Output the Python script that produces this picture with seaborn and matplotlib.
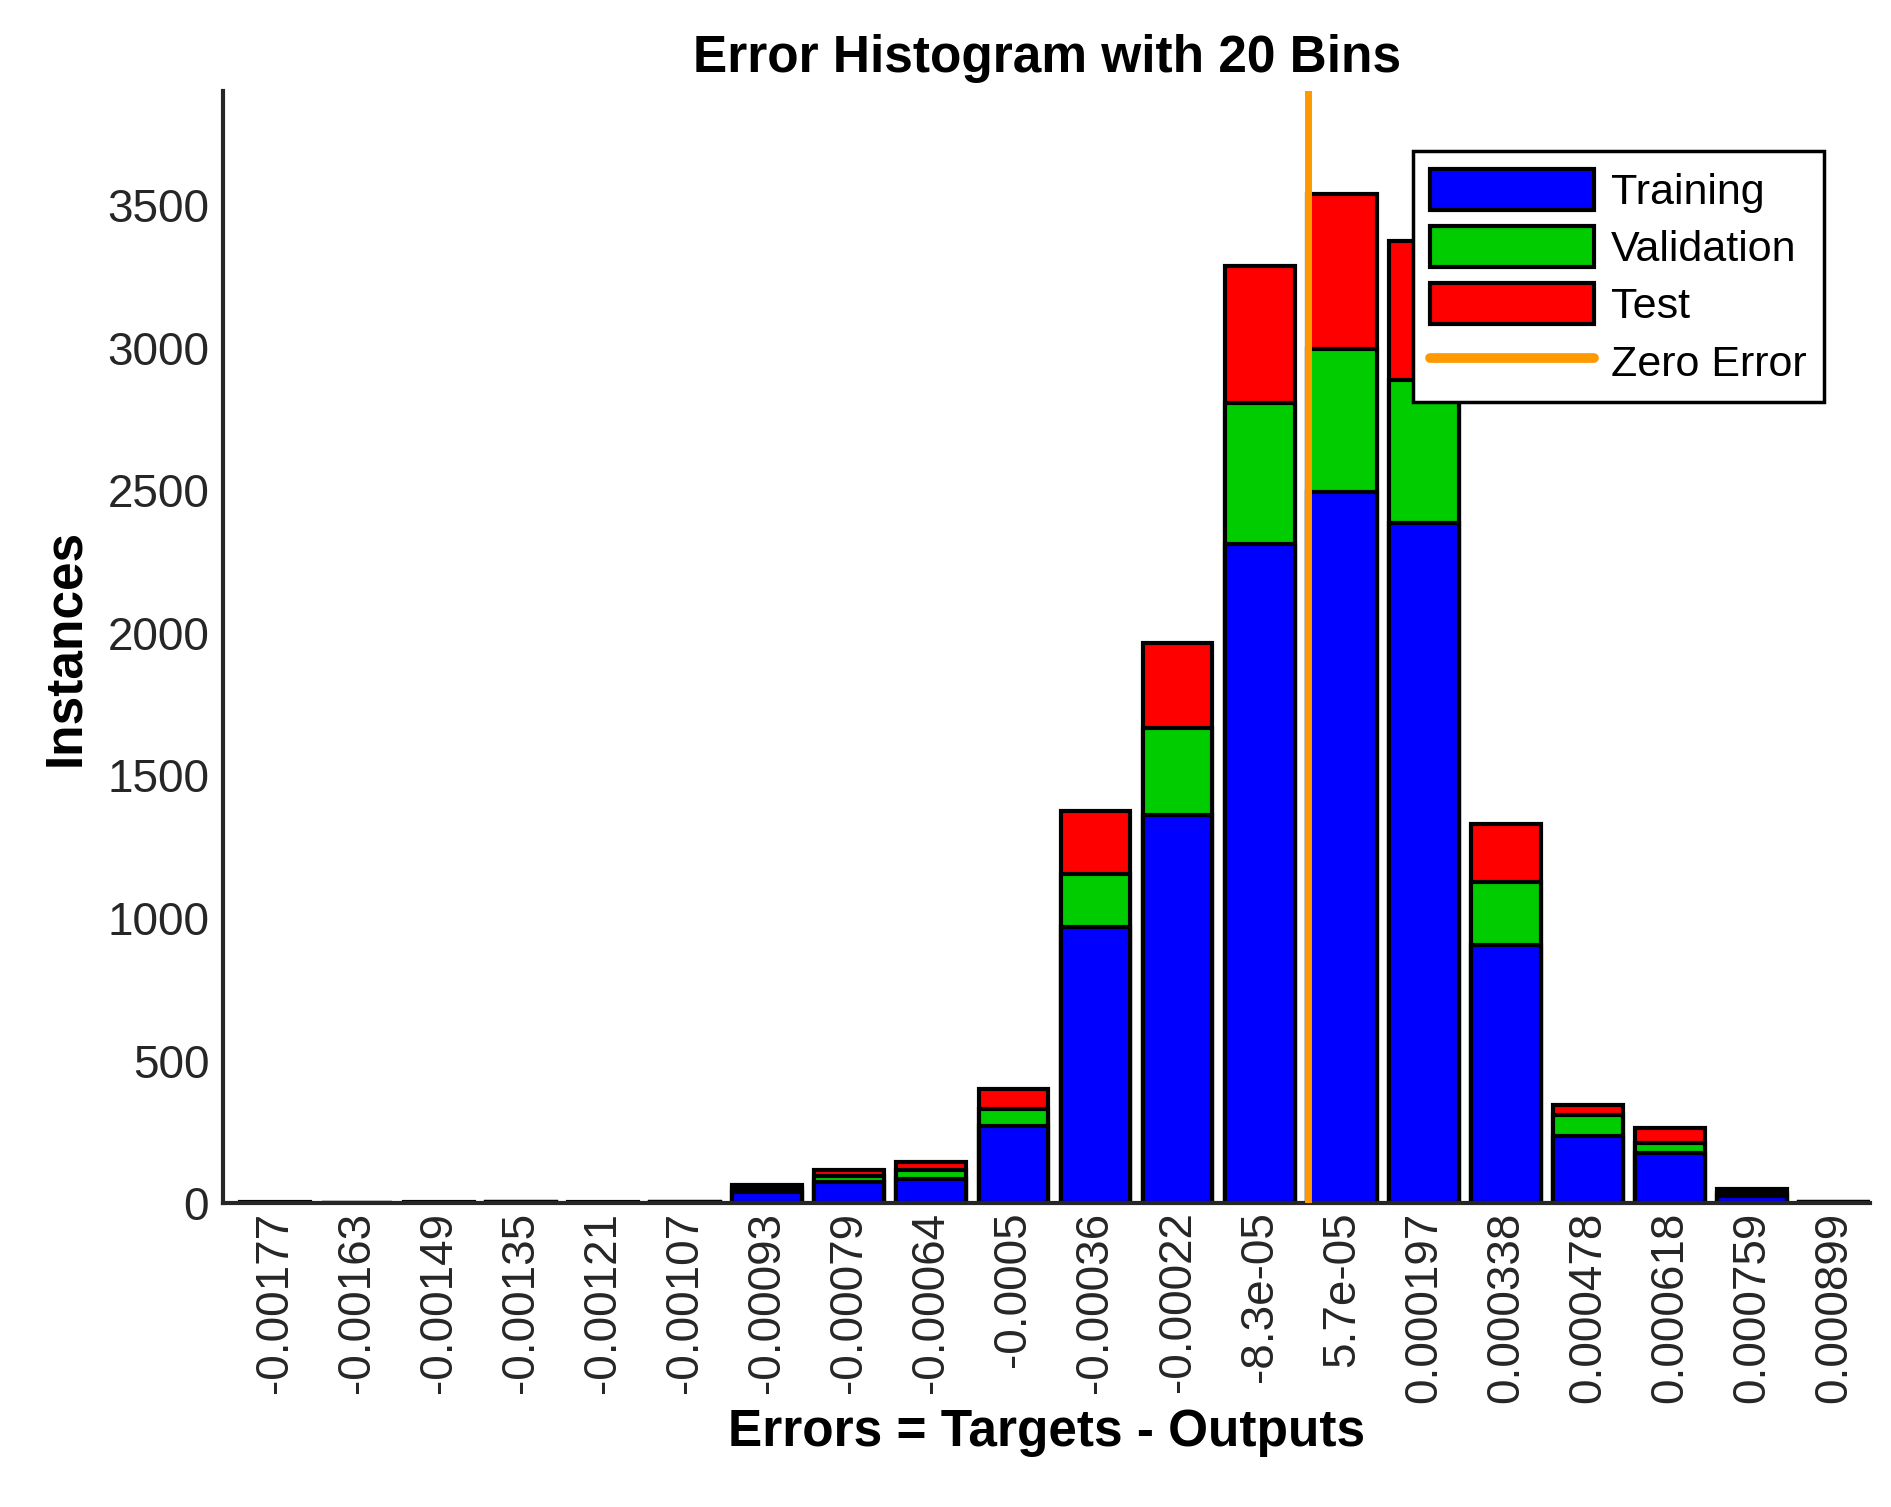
import numpy as np
import pandas as pd
import matplotlib
matplotlib.use('Agg')
import matplotlib.pyplot as plt
import seaborn as sns
from matplotlib.patches import Patch
from matplotlib.lines import Line2D

# 데이터
bin_labels = ['-0.00177', '-0.00163', '-0.00149', '-0.00135', '-0.00121', '-0.00107',
              '-0.00093', '-0.00079', '-0.00064', '-0.0005', '-0.00036', '-0.00022',
              '-8.3e-05', '5.7e-05', '0.000197', '0.000338', '0.000478', '0.000618',
              '0.000759', '0.000899']
training   = [2, 0, 2, 3, 2, 3, 40, 75, 85, 270, 970, 1360, 2310, 2495, 2385, 905, 235, 175, 25, 3]
validation = [0, 0, 0, 1, 0, 1, 12, 20, 30, 60, 185, 305, 495, 500, 500, 220, 75, 35, 10, 1]
test       = [1, 0, 1, 1, 1, 1, 13, 20, 30, 70, 220, 300, 480, 545, 490, 205, 35, 55, 15, 1]
zero_pos = 12.59   # 0 위치 (빈 인덱스 기준)

df = pd.DataFrame({'bin': bin_labels, 'train': training, 'val': validation, 'test': test})
df['tv'] = df['train'] + df['val']
df['total'] = df['tv'] + df['test']

sns.set_theme(style='white')
plt.rcParams['font.family'] = ['Liberation Sans', 'DejaVu Sans']
plt.rcParams['text.color'] = 'black'
plt.rcParams['axes.labelcolor'] = 'black'

fig = plt.figure(figsize=(18.91, 15.07), dpi=100)
ax = fig.add_axes([0.118, 0.2016, 0.871, 0.738])

kw = dict(x='bin', width=0.85, edgecolor='black', linewidth=3, order=bin_labels, ax=ax)
sns.barplot(data=df, y='total', color='#ff0000', saturation=1, **kw)
sns.barplot(data=df, y='tv', color='#00cc00', saturation=1, **kw)
sns.barplot(data=df, y='train', color='#0000ff', saturation=1, **kw)

ax.axvline(zero_pos, color='#ff9900', lw=5, zorder=5)

ax.set_xlim(-0.63, 19.44)
ax.set_ylim(0, 3900)
ax.set_yticks(range(0, 3501, 500))
ax.tick_params(axis='x', rotation=90, labelsize=33, direction='in', length=10, width=2,
               labelcolor='#262626', pad=6)
ax.tick_params(axis='y', labelsize=33, direction='in', length=10, width=2,
               labelcolor='#262626', pad=10)
for s in ['top', 'right']:
    ax.spines[s].set_visible(False)
for s in ['left', 'bottom']:
    ax.spines[s].set_linewidth(3)
    ax.spines[s].set_color('#262626')

ax.set_title('Error Histogram with 20 Bins', fontsize=37, fontweight='bold', pad=14)
ax.set_xlabel('Errors = Targets - Outputs', fontsize=37, fontweight='bold', labelpad=4)
ax.set_ylabel('Instances', fontsize=37, fontweight='bold', labelpad=12)

handles = [Patch(facecolor='#0000ff', edgecolor='black', lw=3, label='Training'),
           Patch(facecolor='#00cc00', edgecolor='black', lw=3, label='Validation'),
           Patch(facecolor='#ff0000', edgecolor='black', lw=3, label='Test'),
           Line2D([0], [0], color='#ff9900', lw=7, label='Zero Error')]
leg = ax.legend(handles=handles, loc='upper right', bbox_to_anchor=(0.985, 0.965),
                fontsize=31, fancybox=False, framealpha=1, edgecolor='black',
                handlelength=3.8, handleheight=1.1, handletextpad=0.4,
                borderpad=0.4, labelspacing=0.3)
leg.get_frame().set_linewidth(2.5)

fig.savefig('out.png', dpi=100)
